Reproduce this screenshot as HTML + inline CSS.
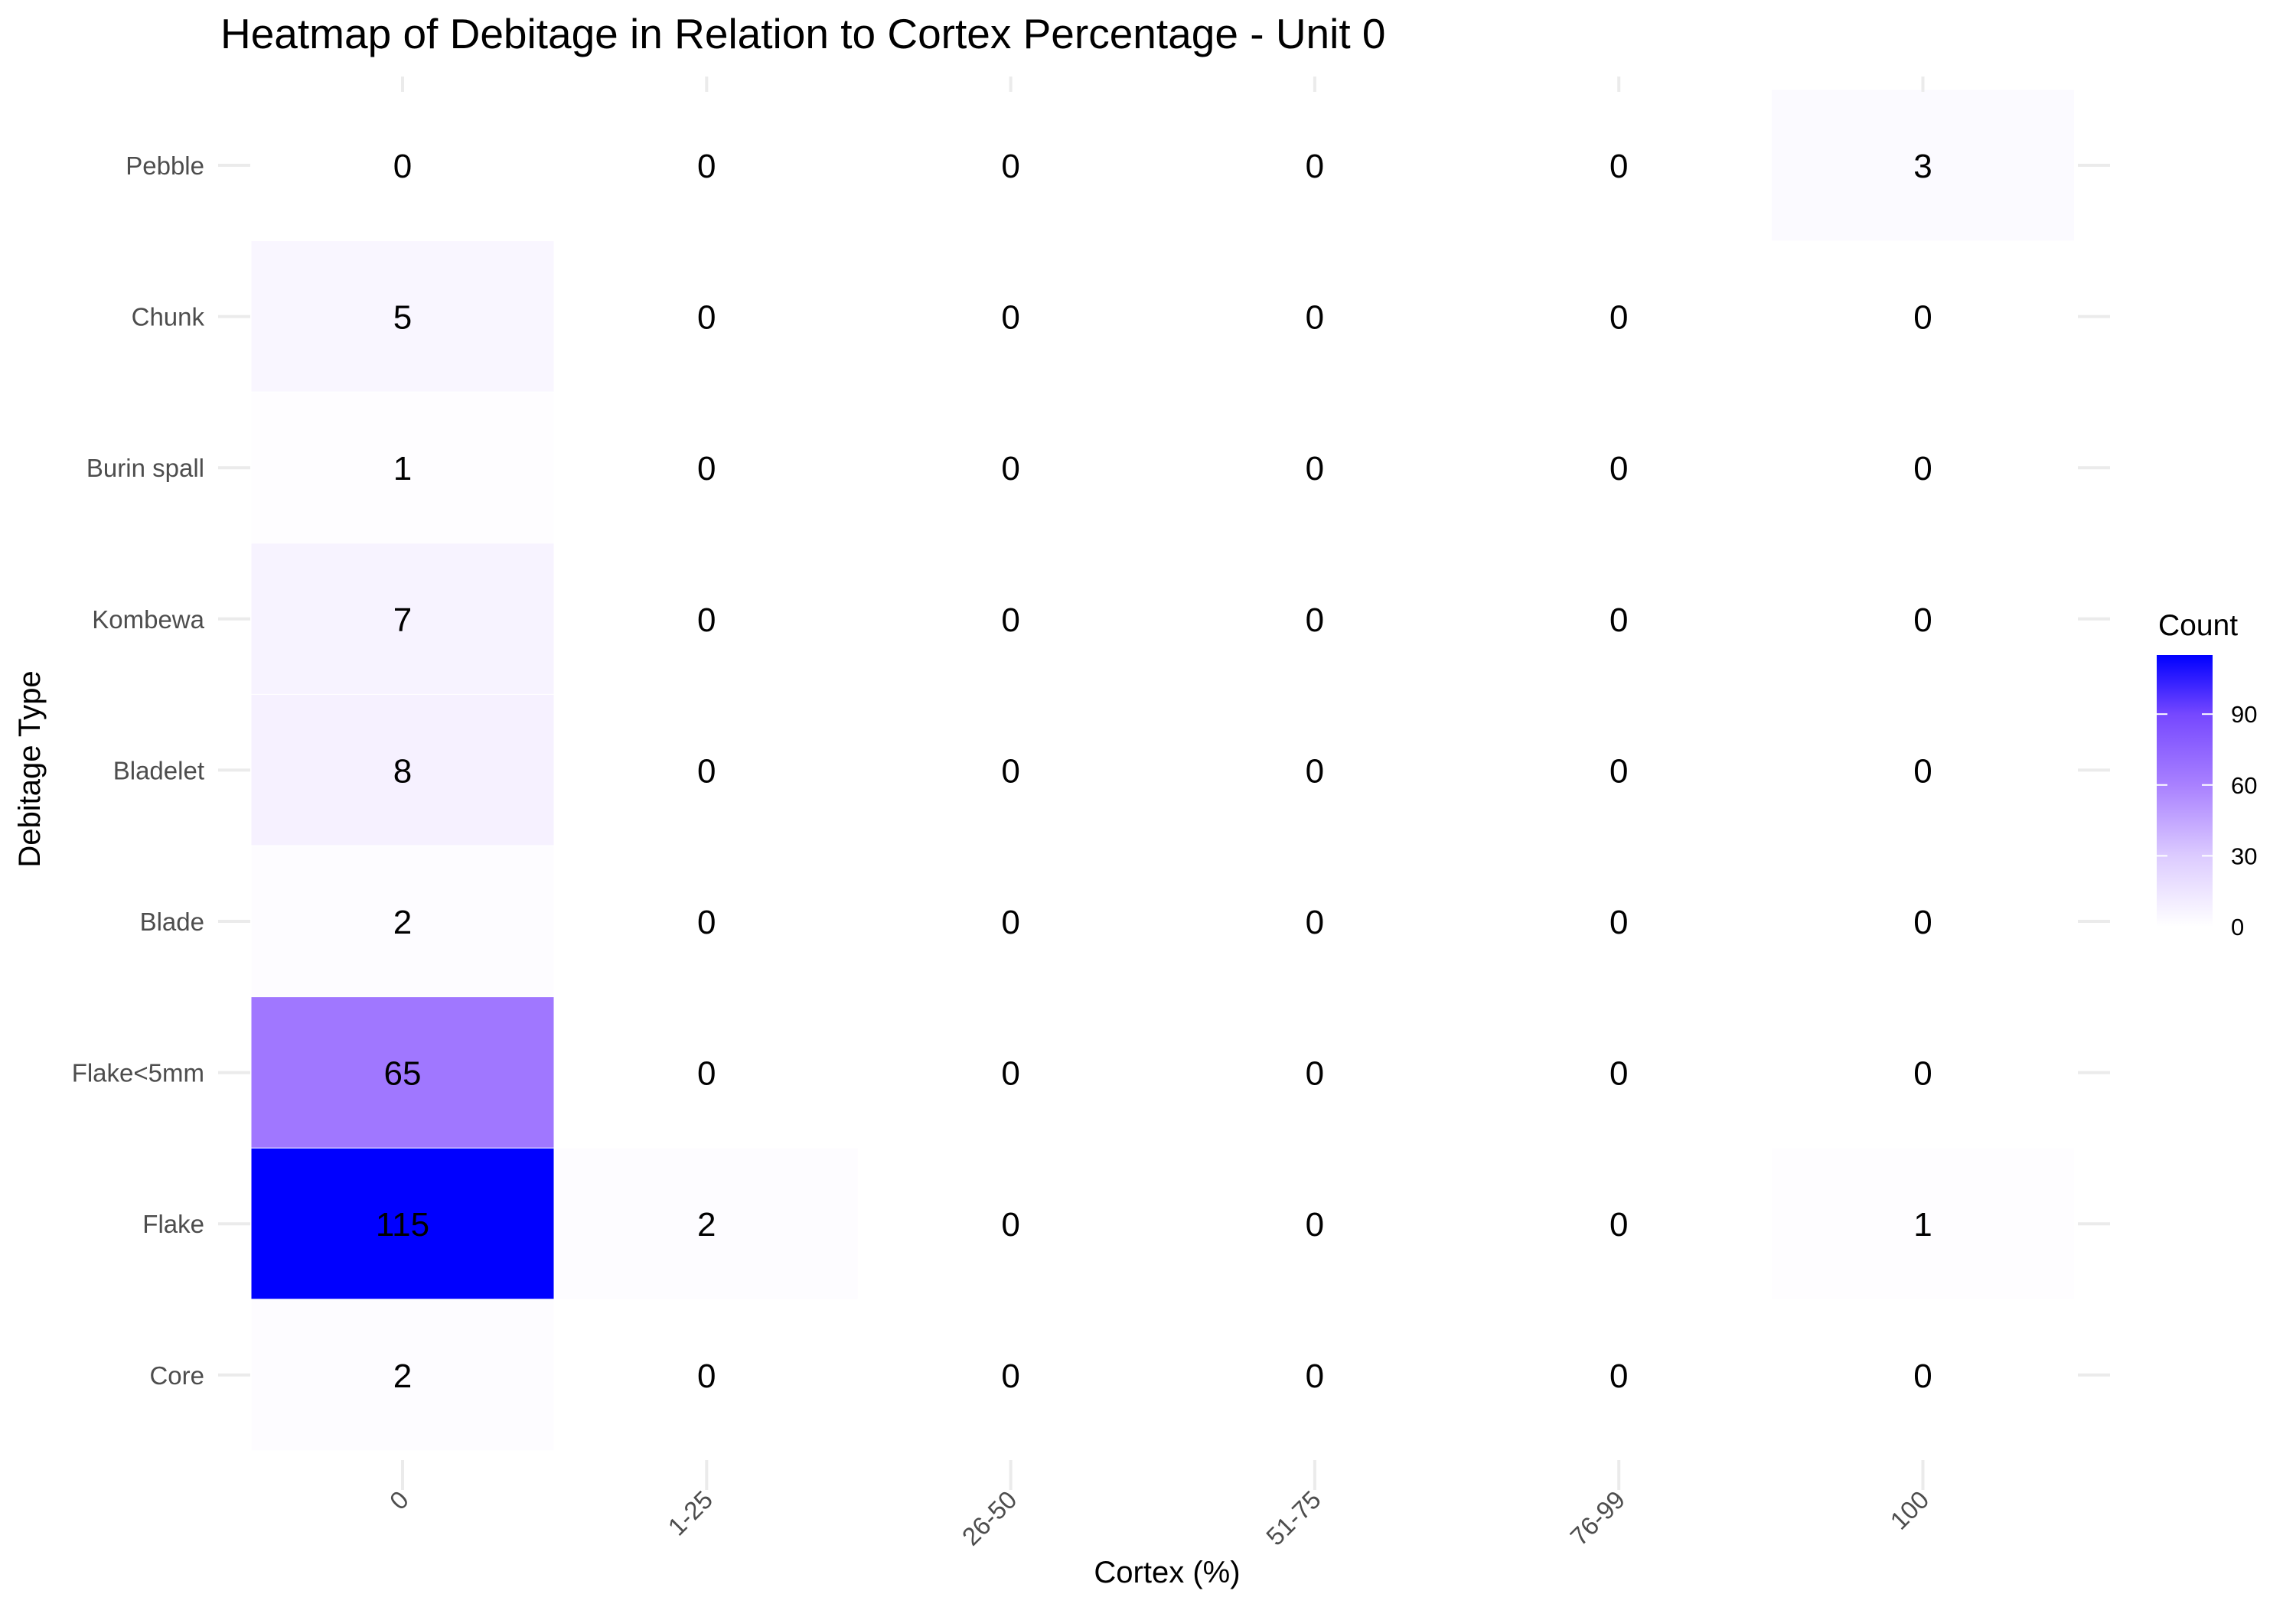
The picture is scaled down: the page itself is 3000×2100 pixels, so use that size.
<!DOCTYPE html>
<html><head><meta charset="utf-8"><style>
body{margin:0;background:#fff;}
svg{display:block;font-family:"Liberation Sans",Arial,sans-serif;}
</style></head><body>
<svg id="chart" width="3000" height="2100" viewBox="0 0 3000 2100">
<defs><linearGradient id="cbar" x1="0" y1="1" x2="0" y2="0">
<stop offset="0" stop-color="#ffffff"/><stop offset="0.26" stop-color="#dccbff"/><stop offset="0.52" stop-color="#a981ff"/><stop offset="0.78" stop-color="#7648ff"/><stop offset="1" stop-color="#0000ff"/></linearGradient></defs>
<text x="288" y="63" font-size="55" fill="#000">Heatmap of Debitage in Relation to Cortex Percentage - Unit 0</text>
<g id="grid"></g><g id="tiles"></g><g id="labels"></g><g id="axes"></g>
<text x="1525" y="2068" font-size="40" text-anchor="middle" fill="#000">Cortex (%)</text>
<text transform="translate(52,1005) rotate(-90)" font-size="40" text-anchor="middle" fill="#000">Debitage Type</text>
<g>
<text x="2820" y="830" font-size="39" fill="#000">Count</text>
<rect x="2818" y="856" width="73" height="355" fill="url(#cbar)"/>
<g id="legend-ticks"></g>
</g>
</svg>
<script>
const cortex=["0","1-25","26-50","51-75","76-99","100"];
const types=["Pebble","Chunk","Burin spall","Kombewa","Bladelet","Blade","Flake<5mm","Flake","Core"];
const counts=[
[0,0,0,0,0,3],
[5,0,0,0,0,0],
[1,0,0,0,0,0],
[7,0,0,0,0,0],
[8,0,0,0,0,0],
[2,0,0,0,0,0],
[65,0,0,0,0,0],
[115,2,0,0,0,1],
[2,0,0,0,0,0]];
const legendTicks=[0,30,60,90];
const maxCount=115;
const NS="http://www.w3.org/2000/svg";
const x0=526,dx=397.3,y0=216,dy=197.6,cw=396,ch=198;
const xs=i=>x0+i*dx, ys=j=>y0+j*dy;
const stops=[[0,[255,255,255]],[0.26,[220,203,255]],[0.52,[169,129,255]],[0.78,[118,72,255]],[1,[0,0,255]]];
function col(v){const t=Math.max(0,Math.min(1,v/maxCount));for(let k=1;k<stops.length;k++){if(t<=stops[k][0]){const a=stops[k-1],b=stops[k],f=(t-a[0])/(b[0]-a[0]);return 'rgb('+a[1].map((c,i)=>Math.round(c+(b[1][i]-c)*f)).join(',')+')';}}return 'rgb(0,0,255)';}
function mk(tag,at,parent,txt){const e=document.createElementNS(NS,tag);for(const k in at)e.setAttribute(k,at[k]);if(txt!==undefined)e.textContent=txt;document.getElementById(parent).appendChild(e);return e;}
types.forEach((t,j)=>{
 let e=mk('line',{x1:285,x2:327,y1:ys(j),y2:ys(j),stroke:'#ebebeb','stroke-width':4},'axes');
 
 
 e=mk('line',{x1:2715,x2:2757,y1:ys(j),y2:ys(j),stroke:'#ebebeb','stroke-width':4},'axes');
 
 
 e=mk('text',{x:267,y:ys(j)+12,'font-size':33,'text-anchor':'end',fill:'#4d4d4d'},'axes',t);
 
 
});
cortex.forEach((c,i)=>{
 let e=mk('line',{x1:xs(i),x2:xs(i),y1:1908,y2:1947,stroke:'#ebebeb','stroke-width':4},'axes');
 
 
 e=mk('line',{x1:xs(i),x2:xs(i),y1:100,y2:120,stroke:'#ebebeb','stroke-width':4},'axes');
 
 
 e=mk('text',{transform:'translate('+(xs(i)+10)+',1962) rotate(-45)','font-size':33,'text-anchor':'end',fill:'#4d4d4d'},'axes',c);
 
 
});
counts.forEach((row,j)=>row.forEach((v,i)=>{
 let e=mk('rect',{x:xs(i)-cw/2,y:ys(j)-ch/2,width:cw,height:ch,fill:col(v),stroke:v>0?'#ffffff':'none','stroke-width':1},'tiles');
 
 
 e=mk('text',{x:xs(i),y:ys(j)+16,'font-size':44,'text-anchor':'middle',fill:'#000'},'labels',String(v));
 
 
}));
legendTicks.forEach(v=>{
 const y=1211-v/maxCount*355;
 let e=mk('line',{x1:2818,x2:2832,y1:y,y2:y,stroke:'#fff','stroke-width':2},'legend-ticks');
 
 
 e=mk('line',{x1:2877,x2:2891,y1:y,y2:y,stroke:'#fff','stroke-width':2},'legend-ticks');
 
 
 e=mk('text',{x:2915,y:y+11,'font-size':31,fill:'#000'},'legend-ticks',String(v));
 
 
});
</script>
</body></html>
